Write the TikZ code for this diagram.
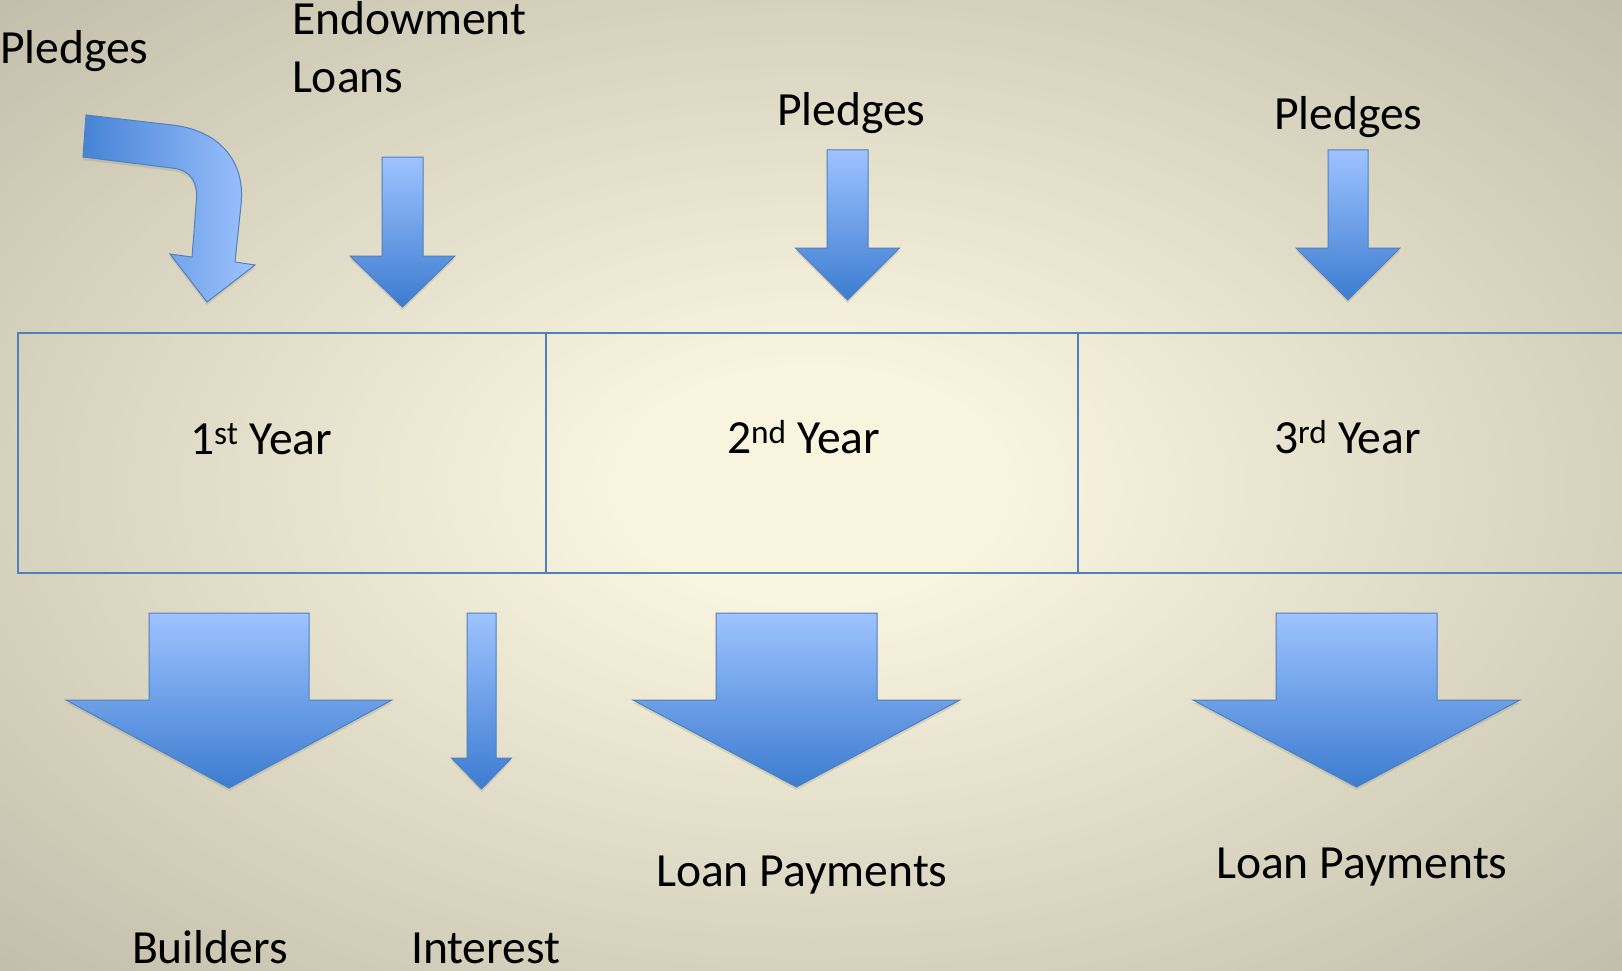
\documentclass[tikz,border=0pt]{standalone}
\usepackage{fontspec}
\setmainfont{Carlito}
\usetikzlibrary{shadows}
\definecolor{bgin}{RGB}{249,244,222}
\definecolor{bgout}{RGB}{163,160,142}
\definecolor{arrtop}{RGB}{158,195,255}
\definecolor{arrbot}{RGB}{60,124,208}
\definecolor{arrline}{RGB}{79,129,189}
\pgfdeclareradialshading{bgshade}{\pgfpoint{0bp}{0bp}}{color(0bp)=(bgin); color(6bp)=(bgin); color(52bp)=(bgout); color(75bp)=(bgout)}
\tikzset{
  lbl/.style={anchor=base west, inner sep=0pt, outer sep=0pt, text=black, font=\fontsize{47.6}{57}\selectfont},
  yearbox/.style={draw=arrline, line width=2.2pt, anchor=north west, inner sep=0pt, minimum height=240pt},
  blockarr/.style={draw=arrline, line width=1pt, line join=miter, top color=arrtop, bottom color=arrbot,
    drop shadow={opacity=0.22, shadow xshift=0pt, shadow yshift=-3pt}},
  bentarr/.style={draw=arrline, line width=1pt, left color=arrbot!90!arrtop, right color=arrtop,
    drop shadow={opacity=0.22, shadow xshift=0pt, shadow yshift=-3pt}}
}
% name, centre x, top y, shaft half width, head y, head half width, tip y
\newcommand\bdarrow[7]{%
  \draw[blockarr] ({#2-#4},#3) -- ({#2+#4},#3) -- ({#2+#4},#5) -- ({#2+#6},#5)
    -- (#2,#7) -- ({#2-#6},#5) -- ({#2-#4},#5) -- cycle;
  \coordinate (#1) at (#2,#7);}
\begin{document}
\begin{tikzpicture}[x=1pt,y=-1pt]
\useasboundingbox (0,0) rectangle (1622,971);
\shade[shading=bgshade] (0,0) rectangle (1622,971);
\clip (0,0) rectangle (1622,971);

% year boxes
\node[yearbox, minimum width=528pt] (box1) at (17,332) {};
\node[yearbox, minimum width=532pt] (box2) at (545,332) {};
\node[yearbox, minimum width=580pt] (box3) at (1077,332) {};

% year labels
\node[lbl] (y1) at (190,454) {1\textsuperscript{st} Year};
\node[lbl] (y2) at (727,453) {2\textsuperscript{nd} Year};
\node[lbl] (y3) at (1274,453) {3\textsuperscript{rd} Year};

% top labels
\node[lbl] (p1) at (0,64) {Pledges};
\node[lbl] (e1) at (292,35) {Endowment};
\node[lbl] (e2) at (292,93) {Loans};
\node[lbl] (p2) at (777,125) {Pledges};
\node[lbl] (p3) at (1274,130) {Pledges};

% bottom labels
\node[lbl] (lp2) at (656,886) {Loan Payments};
\node[lbl] (lp3) at (1216,878) {Loan Payments};
\node[lbl] (bld) at (132,963) {Builders};
\node[lbl] (int) at (411,963) {Interest};

% bent arrow (Pledges, 1st year)
\draw[bentarr] (86,115) -- (172,125)
  .. controls (218,130) and (246,160) .. (241,205)
  -- (235,262) -- (255,265) -- (207,302) -- (170,254) -- (192,257)
  -- (196,205) .. controls (199,182) and (191,170) .. (172,168)
  -- (83,157) -- cycle;
\coordinate (bentTip) at (207,302);

% straight block arrows
\bdarrow{aEnd}{402.5}{157}{20.5}{256}{52.5}{307}
\bdarrow{aP2}{847.5}{150}{20.5}{248}{52}{300}
\bdarrow{aP3}{1348}{150}{20}{248}{52}{300}
\bdarrow{aBld}{229}{613}{80}{700}{163}{788}
\bdarrow{aInt}{481.5}{613}{14.5}{758}{30}{789}
\bdarrow{aLp2}{796.5}{613}{80.5}{700}{163.5}{787}
\bdarrow{aLp3}{1356.5}{613}{80.5}{700}{163.5}{787}
\end{tikzpicture}
\end{document}
